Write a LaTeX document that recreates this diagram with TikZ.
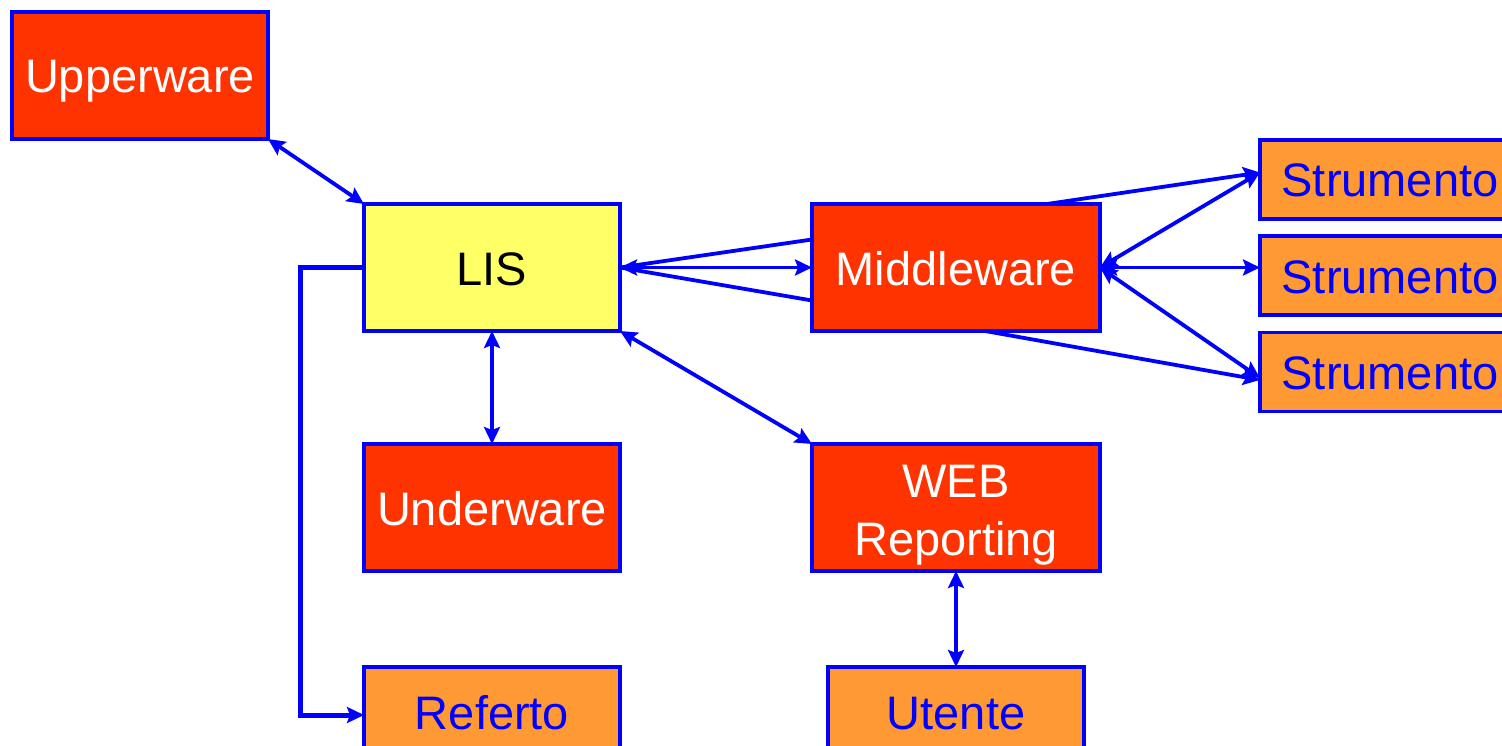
\documentclass[tikz,border=0pt]{standalone}
\usepackage{fontspec}
\setmainfont{Liberation Sans}
\usetikzlibrary{arrows.meta,calc}
\definecolor{redbox}{HTML}{FF3300}
\definecolor{yelbox}{HTML}{FFFF66}
\definecolor{orbox}{HTML}{FF9933}
\definecolor{lineblue}{HTML}{0000FF}
\begin{document}
\begin{tikzpicture}[x=1pt,y=-1pt,
  box/.style={draw=lineblue,line width=3.3pt,inner sep=0pt,outer sep=0pt,
    font=\fontsize{47}{57.4}\selectfont,align=center},
  one/.style={text height=44pt,text depth=9pt},
  redb/.style={box,fill=redbox,text=white},
  yelb/.style={box,fill=yelbox,text=black},
  orb/.style={box,fill=orbox,text=lineblue},
  conn/.style={draw=lineblue,line width=3.8pt},
  tip/.style={-{Stealth[length=17pt,width=16pt,inset=3pt]}},
  both/.style={{Stealth[length=17pt,width=16pt,inset=3pt]}-{Stealth[length=17pt,width=16pt,inset=3pt]}}
]
\clip (0,0) rectangle (1502,746);
\fill[white] (0,0) rectangle (1502,746);

\node[redb,one,minimum width=256pt,minimum height=127pt] (up) at (140,75.5) {Upperware};
\node[yelb,one,minimum width=256pt,minimum height=127pt] (lis) at (492,267.5) {LIS};
\node[redb,one,minimum width=288pt,minimum height=127pt] (mw) at (956,267.5) {Middleware};
\node[redb,one,minimum width=256pt,minimum height=127pt] (uw) at (492,507.5) {Underware};
\node[redb,text height=101pt,text depth=6pt,minimum width=288pt,minimum height=127pt] (web) at (956,507.5) {WEB\\Reporting};
\node[orb,one,minimum width=260pt,minimum height=79pt] (s1) at (1390,179.5) {Strumento};
\node[orb,one,minimum width=260pt,minimum height=79pt] (s2) at (1390,275.5) {Strumento};
\node[orb,one,minimum width=260pt,minimum height=79pt] (s3) at (1390,372) {Strumento};
\node[orb,one,minimum width=256pt,minimum height=90pt] (ref) at (492,712) {Referto};
\node[orb,one,minimum width=256pt,minimum height=90pt] (ut) at (956,712) {Utente};

\coordinate (c1) at (300,267.5);
\coordinate (c2) at (300,715);

\draw[conn,both] (up.south east) -- (lis.north west);
\draw[conn,both] (lis.east) -- (mw.west);
\draw[conn] ([yshift=28pt]mw.west) -- (lis.east);
\draw[conn] ([yshift=-33pt]mw.west) -- (lis.east);
\draw[conn,both] (mw.east) -- ([yshift=7pt]s1.west);
\draw[conn,both] (mw.east) -- (s2.west |- mw.east);
\draw[conn,both] (mw.east) -- ([yshift=-6pt]s3.west);
\draw[conn,tip] ([xshift=91pt]mw.north) -- ([yshift=7pt]s1.west);
\draw[conn,tip] ([xshift=29pt]mw.south) -- ([yshift=-8pt]s3.west);
\draw[conn,both] (lis.south) -- (uw.north);
\draw[conn,both] (lis.south east) -- (web.north west);
\draw[conn,both] (web.south) -- (ut.north);
\draw[conn,line width=5pt,tip] (lis.west) -- (c1) -- (c2) -- (ref.west |- c2);
\end{tikzpicture}
\end{document}
